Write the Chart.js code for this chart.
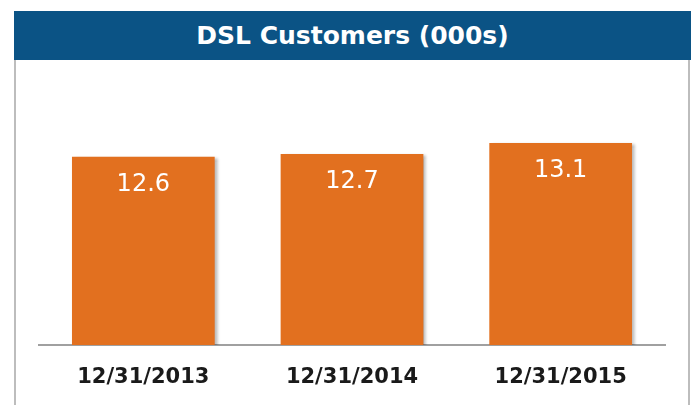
<!DOCTYPE html>
<html>
<head>
<meta charset="utf-8">
<script src="https://cdn.jsdelivr.net/npm/chart.js@4/dist/chart.umd.min.js"></script>
<style>
  html, body { margin: 0; padding: 0; background: #fff; }
  body { width: 695px; height: 405px; position: relative; overflow: hidden; }
  #frame {
    position: absolute; left: 14px; top: 11px; width: 672px; height: 420px;
    border-left: 2px solid #bdbdbd; border-right: 2px solid #bdbdbd;
  }
  #title {
    position: absolute; left: 14px; top: 11px; width: 677px; height: 49px;
    background: #0b5385; color: #fff;
    font: bold 25px "DejaVu Sans", sans-serif;
    line-height: 49px; text-align: center;
  }
  #chart { position: absolute; left: 0; top: 0; }
</style>
</head>
<body>
<div id="frame"></div>
<div id="title">DSL Customers (000s)</div>
<canvas id="chart" width="695" height="405"></canvas>
<script>
const categories = ["12/31/2013", "12/31/2014", "12/31/2015"];
const customers = [12.6, 12.7, 13.1];

const chartContext = document.getElementById("chart").getContext("2d");

// soft shadow on the right of the bars
const barShadow = {
  id: "barShadow",
  beforeDatasetDraw(chart) {
    const ctx = chart.ctx;
    ctx.save();
    ctx.shadowColor = "rgba(0, 0, 0, 0.3)";
    ctx.shadowOffsetX = 3;
    ctx.shadowOffsetY = 1;
    ctx.shadowBlur = 3;
  },
  afterDatasetDraw(chart) {
    chart.ctx.restore();
  },
};

// white value inside the top of each bar
const valueLabels = {
  id: "valueLabels",
  afterDatasetsDraw(chart) {
    const ctx = chart.ctx;
    const meta = chart.getDatasetMeta(0);
    ctx.save();
    ctx.fillStyle = "#ffffff";
    ctx.font = "24px 'DejaVu Sans', sans-serif";
    ctx.textAlign = "center";
    ctx.textBaseline = "middle";
    meta.data.forEach((bar, i) => {
      ctx.fillText(customers[i].toFixed(1), bar.x, bar.y + 28);
    });
    ctx.restore();
  },
};

new Chart(chartContext, {
  type: "bar",
  data: {
    labels: categories,
    datasets: [
      {
        label: "DSL Customers (000s)",
        data: customers,
        backgroundColor: "#e2701f",
        borderWidth: 0,
        categoryPercentage: 1,
        barPercentage: 0.684,
      },
    ],
  },
  options: {
    responsive: false,
    animation: false,
    layout: {
      padding: { top: 92, left: 39, right: 30, bottom: 0 },
    },
    plugins: {
      legend: { display: false },
      tooltip: { enabled: false },
      title: { display: false },
    },
    scales: {
      y: {
        display: false,
        min: 5.75,
        max: 14.95,
      },
      x: {
        grid: { display: false, drawTicks: false },
        border: { display: true, color: "#a0a0a0", width: 2 },
        ticks: {
          color: "#1a1a1a",
          padding: 20,
          font: { family: "'DejaVu Sans', sans-serif", size: 21, weight: "bold" },
        },
        afterFit: (scale) => {
          scale.height = 60;
        },
      },
    },
  },
  plugins: [barShadow, valueLabels],
});
</script>
</body>
</html>
